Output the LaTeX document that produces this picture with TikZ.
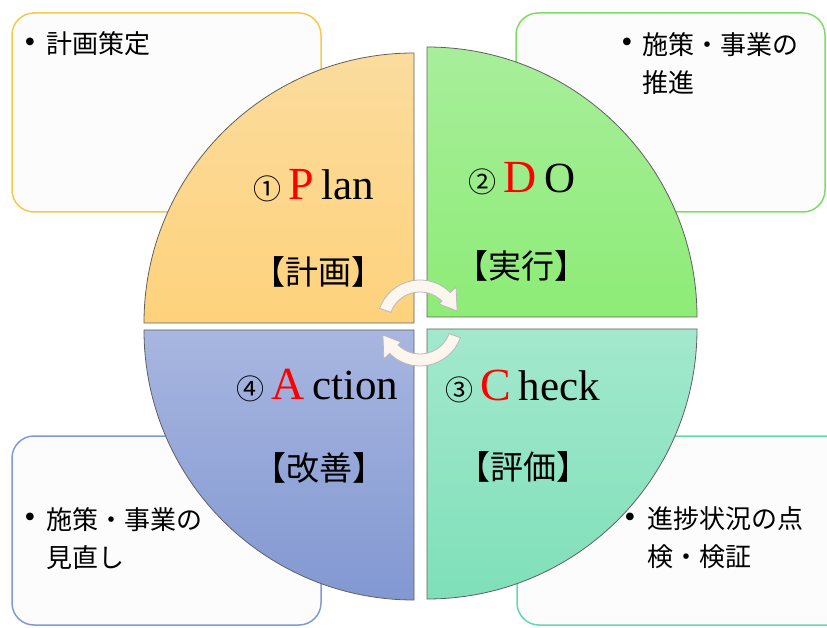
\documentclass[tikz,border=0pt]{standalone}
\usepackage{fontspec}
\setmainfont{Liberation Serif}
\newfontfamily\jpfont{Noto Sans CJK JP}
\usetikzlibrary{calc}
\definecolor{boxfill}{RGB}{252,252,252}
\definecolor{plantop}{RGB}{251,220,157}
\definecolor{planbot}{RGB}{254,210,124}
\definecolor{dotop}{RGB}{168,238,155}
\definecolor{dobot}{RGB}{141,236,118}
\definecolor{chktop}{RGB}{163,232,206}
\definecolor{chkbot}{RGB}{126,224,184}
\definecolor{acttop}{RGB}{168,182,224}
\definecolor{actbot}{RGB}{130,152,210}
\definecolor{planline}{RGB}{246,200,78}
\definecolor{doline}{RGB}{125,222,100}
\definecolor{chkline}{RGB}{98,216,174}
\definecolor{actline}{RGB}{127,155,214}
\definecolor{arrowfill}{RGB}{253,246,238}
\newcommand\stage[3]{{\jpfont\fontsize{28pt}{30pt}\selectfont #1}\hspace{7pt}{\color{red}\fontsize{46pt}{48pt}\selectfont #2}\hspace{8pt}#3}
\tikzset{
    every node/.style={inner sep=0pt, outer sep=0pt}
}
\tikzset{
    quad/.style={draw=gray!75!black, line width=0.8pt},
    note/.style={rounded corners=22pt, fill=boxfill, line width=1.5pt},
    notetext/.style={align=left, anchor=north west,
        font=\jpfont\fontsize{26pt}{38pt}\selectfont},
    dot/.style={font=\fontsize{32pt}{34pt}\selectfont},
    title/.style={anchor=base west, font=\fontsize{43pt}{48pt}\selectfont},
    tag/.style={font=\jpfont\fontsize{33pt}{38pt}\selectfont},
    cyc/.style={fill=arrowfill, draw=gray!55, line width=0.8pt}
}

\begin{document}
\begin{tikzpicture}[x=1pt, y=1pt]
  \useasboundingbox (0,0) rectangle (827,627);

  % note boxes behind the circle
  \draw[note, draw=planline] (12,415) rectangle (321,614);
  \draw[note, draw=doline] (516,415) rectangle (825,614);
  \draw[note, draw=actline] (12,2) rectangle (321,191);
  \draw[note, draw=chkline] (517,2) rectangle (850,191);

  % quarters
  \coordinate (pc) at (414,304);
  \coordinate (dc) at (427,310);
  \coordinate (cc) at (427,298);
  \coordinate (ac) at (414,297);
  \draw[quad, top color=plantop, bottom color=planbot]
    (pc) -- ++(-270,0) arc[start angle=180, end angle=90, radius=270pt] -- cycle;
  \draw[quad, top color=dotop, bottom color=dobot]
    (dc) -- ++(0,270) arc[start angle=90, end angle=0, radius=270pt] -- cycle;
  \draw[quad, top color=chktop, bottom color=chkbot]
    (cc) -- ++(270,0) arc[start angle=0, end angle=-90, radius=270pt] -- cycle;
  \draw[quad, top color=acttop, bottom color=actbot]
    (ac) -- ++(0,-270) arc[start angle=-90, end angle=-180, radius=270pt] -- cycle;

  \node (plan) [title] at (253,427) {\stage{①}{P}{lan}};
  \node (do) [title] at (468,434) {\stage{②}{D}{O}};
  \node (check) [title] at (445,226) {\stage{③}{C}{heck}};
  \node (act) [title] at (236,227) {\stage{④}{A}{ction}};

  \node (plantag) [tag] at (318,355) {【計画】};
  \node (dotag) [tag] at (521,361) {【実行】};
  \node (checktag) [tag] at (523,160) {【評価】};
  \node (acttag) [tag] at (319,159) {【改善】};

  \node (b1) [dot] at (30,582) {\textbullet};
  \node (n1) [notetext] at (46,595) {計画策定};
  \node (b2) [dot] at (627,582) {\textbullet};
  \node (n2) [notetext] at (642,594) {施策・事業の\\推進};
  \node (b3) [dot] at (30,107) {\textbullet};
  \node (n3) [notetext] at (46,119) {施策・事業の\\見直し};
  \node (b4) [dot] at (630,107) {\textbullet};
  \node (n4) [notetext] at (647,120) {進捗状況の点\\検・検証};

  % cycle arrows
  \begin{scope}[shift={(420,304)}]
    \draw[cyc] (160:43) arc[start angle=160, end angle=45, radius=43pt]
      -- (45:51) -- (18:39) -- (45:27) -- (45:31)
      arc[start angle=45, end angle=160, radius=31pt] -- cycle;
    \draw[cyc, rotate=180] (160:43) arc[start angle=160, end angle=45, radius=43pt]
      -- (45:51) -- (18:39) -- (45:27) -- (45:31)
      arc[start angle=45, end angle=160, radius=31pt] -- cycle;
  \end{scope}
\end{tikzpicture}
\end{document}
